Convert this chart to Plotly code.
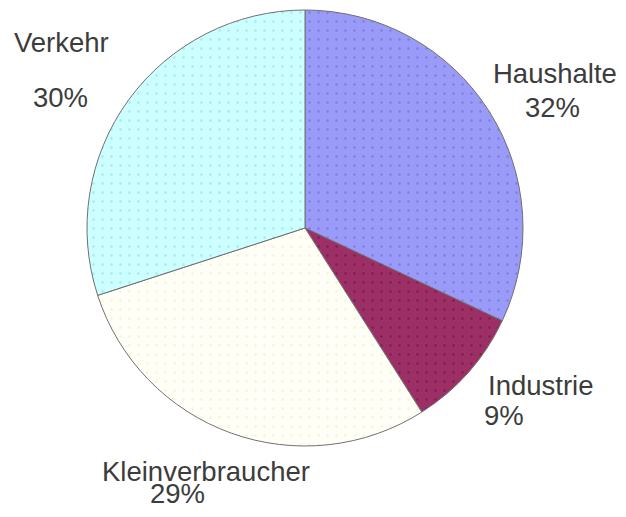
import plotly.graph_objects as go

# Data
categories = ["Haushalte", "Industrie", "Kleinverbraucher", "Verkehr"]
shares = [32, 9, 29, 30]

# Styles
slice_colors = ["#9a9af8", "#9c3066", "#fffff7", "#ccffff"]
dot_colors = ["#6a6ad0", "#6a1040", "#ecebc0", "#9ed6d6"]

# The page body has an 8px margin, so the figure is drawn 8px in from the corner.
OFF = 8
W, H = 626 - 2 * OFF, 517 - 2 * OFF
cx, cy, r = 305 - OFF, 228 - OFF, 218

fig = go.Figure(
    go.Pie(
        labels=categories,
        values=shares,
        sort=False,
        direction="clockwise",
        rotation=0,
        textinfo="none",
        hoverinfo="label+percent",
        marker=dict(
            colors=slice_colors,
            line=dict(color="#707070", width=1),
            pattern=dict(
                shape=".",
                bgcolor=slice_colors,
                fgcolor=dot_colors,
                fgopacity=0.6,
                size=9,
                solidity=0.06,
            ),
        ),
        domain=dict(
            x=[(cx - r) / W, (cx + r) / W],
            y=[1 - (cy + r) / H, 1 - (cy - r) / H],
        ),
        showlegend=False,
    )
)

# Label placements (pixel centres in the reference): name line, percent line
label_pos = {
    "Haushalte": ((555, 73), (552, 107)),
    "Industrie": ((540, 385), (504, 415)),
    "Kleinverbraucher": ((206, 471), (178, 493)),
    "Verkehr": ((61, 43), (60, 98)),
}

annotations = []
for cat, val in zip(categories, shares):
    (nx, ny), (px, py) = label_pos[cat]
    for txt, x, y in ((cat, nx, ny), (f"{val}%", px, py)):
        annotations.append(
            dict(
                text=txt,
                x=(x - OFF) / W,
                y=1 - (y - OFF) / H,
                xref="paper",
                yref="paper",
                xanchor="center",
                yanchor="middle",
                showarrow=False,
                font=dict(family="Liberation Sans, Arial, sans-serif", size=27.5, color="#3c3c3c"),
            )
        )

fig.update_layout(
    width=W,
    height=H,
    margin=dict(l=0, r=0, t=0, b=0),
    paper_bgcolor="white",
    plot_bgcolor="white",
    annotations=annotations,
)

fig.write_html("out.html")
